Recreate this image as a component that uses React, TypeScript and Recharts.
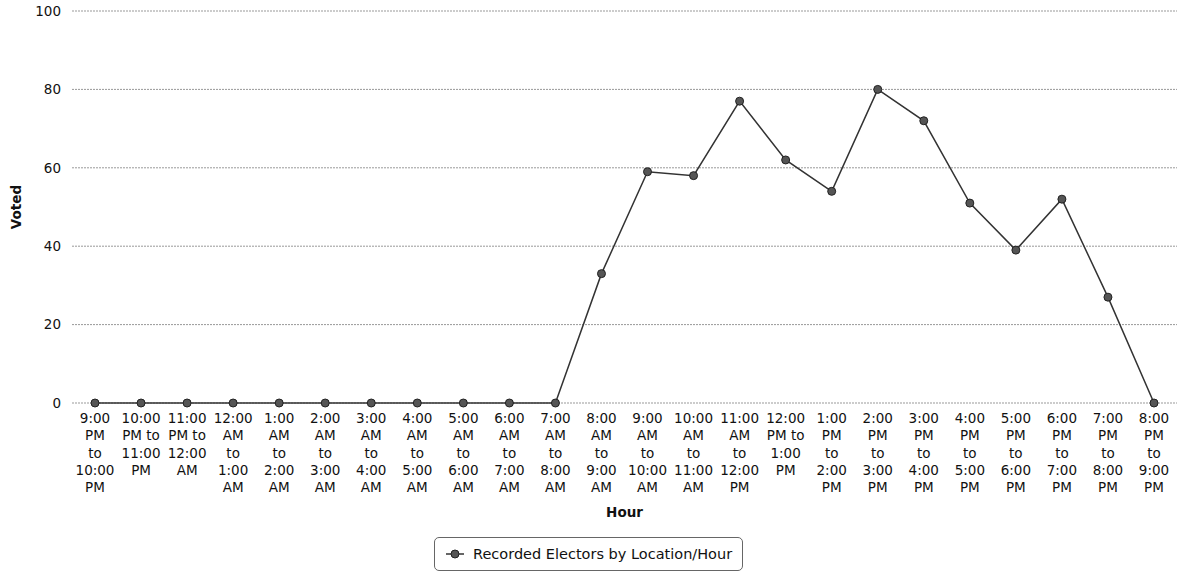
import { LineChart, Line, XAxis, YAxis, CartesianGrid, Legend } from 'recharts'

const hourLabels = [
  '9:00\nPM\nto\n10:00\nPM',
  '10:00\nPM to\n11:00\nPM',
  '11:00\nPM to\n12:00\nAM',
  '12:00\nAM\nto\n1:00\nAM',
  '1:00\nAM\nto\n2:00\nAM',
  '2:00\nAM\nto\n3:00\nAM',
  '3:00\nAM\nto\n4:00\nAM',
  '4:00\nAM\nto\n5:00\nAM',
  '5:00\nAM\nto\n6:00\nAM',
  '6:00\nAM\nto\n7:00\nAM',
  '7:00\nAM\nto\n8:00\nAM',
  '8:00\nAM\nto\n9:00\nAM',
  '9:00\nAM\nto\n10:00\nAM',
  '10:00\nAM\nto\n11:00\nAM',
  '11:00\nAM\nto\n12:00\nPM',
  '12:00\nPM to\n1:00\nPM',
  '1:00\nPM\nto\n2:00\nPM',
  '2:00\nPM\nto\n3:00\nPM',
  '3:00\nPM\nto\n4:00\nPM',
  '4:00\nPM\nto\n5:00\nPM',
  '5:00\nPM\nto\n6:00\nPM',
  '6:00\nPM\nto\n7:00\nPM',
  '7:00\nPM\nto\n8:00\nPM',
  '8:00\nPM\nto\n9:00\nPM',
]

const voted = [0, 0, 0, 0, 0, 0, 0, 0, 0, 0, 0, 33, 59, 58, 77, 62, 54, 80, 72, 51, 39, 52, 27, 0]

const yTicks = [0, 20, 40, 60, 80, 100]

const seriesName = 'Recorded Electors by Location/Hour'

const data = hourLabels.map((hour, i) => ({ hour, voted: voted[i] }))

const FONT = '"DejaVu Sans", Verdana, sans-serif'

function HourTick({ x, y, payload }: any) {
  const lines = String(payload.value).split('\n')
  return (
    <text x={x} y={y + 18} textAnchor="middle" fontFamily={FONT} fontSize={13.5} fill="#111">
      {lines.map((line, i) => (
        <tspan key={i} x={x} dy={i === 0 ? 0 : 17.3}>{line}</tspan>
      ))}
    </text>
  )
}

function HourLabel({ viewBox }: any) {
  return (
    <text
      x={viewBox.x + viewBox.width / 2}
      y={viewBox.y + 114}
      textAnchor="middle"
      fontFamily={FONT}
      fontSize={13.5}
      fontWeight="bold"
      fill="#111"
    >
      Hour
    </text>
  )
}

function VotedLabel({ viewBox }: any) {
  const cx = 21
  const cy = viewBox.y + viewBox.height / 2
  return (
    <text
      x={cx}
      y={cy}
      textAnchor="middle"
      transform={`rotate(-90, ${cx}, ${cy})`}
      fontFamily={FONT}
      fontSize={13.5}
      fontWeight="bold"
      fill="#111"
    >
      Voted
    </text>
  )
}

function LegendBox() {
  return (
    <div
      style={{
        display: 'inline-flex',
        alignItems: 'center',
        border: '1px solid #666',
        borderRadius: 5,
        height: 34,
        padding: '0 10px',
        fontFamily: FONT,
        fontSize: 14.5,
        color: '#111',
        boxSizing: 'border-box',
      }}
    >
      <svg width={20} height={12} style={{ marginRight: 8 }}>
        <line x1={1} y1={6} x2={19} y2={6} stroke="#333" strokeWidth={1.5} />
        <circle cx={10} cy={6} r={4} fill="#555" stroke="#222" />
      </svg>
      {seriesName}
    </div>
  )
}

export default function App() {
  return (
    <div style={{ position: 'absolute', left: 0, top: 0, background: '#fff' }}>
      <LineChart
        width={1179}
        height={573}
        data={data}
        margin={{ top: 11, right: 2, left: 0, bottom: 15 }}
      >
        <CartesianGrid vertical={false} stroke="#999" strokeDasharray="2 1" />
        <XAxis
          dataKey="hour"
          interval={0}
          height={120}
          padding={{ left: 23, right: 23 }}
          axisLine={false}
          tickLine={false}
          tickSize={0}
          tick={<HourTick />}
          label={<HourLabel />}
        />
        <YAxis
          domain={[0, 100]}
          ticks={yTicks}
          width={72}
          axisLine={false}
          tickLine={false}
          tickSize={0}
          tickMargin={11}
          tick={{ fontFamily: FONT, fontSize: 13.5, fill: '#111' }}
          label={<VotedLabel />}
        />
        <Legend
          verticalAlign="bottom"
          content={<LegendBox />}
          wrapperStyle={{ left: 434, top: 537, bottom: 'auto', width: 'auto', height: 35 }}
        />
        <Line
          type="linear"
          dataKey="voted"
          name={seriesName}
          stroke="#333"
          strokeWidth={1.5}
          dot={{ r: 4, fill: '#555', stroke: '#222', strokeWidth: 1 }}
          isAnimationActive={false}
        />
      </LineChart>
    </div>
  )
}
